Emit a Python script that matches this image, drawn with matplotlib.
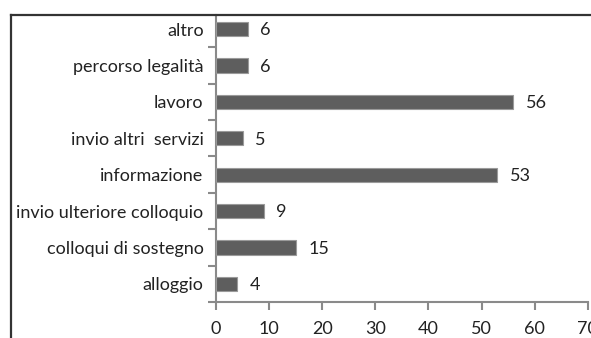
import numpy as np
import matplotlib.pyplot as plt
from matplotlib.lines import Line2D

plt.rcParams['font.family'] = ['Lato', 'DejaVu Sans']

categories = ['alloggio', 'colloqui di sostegno', 'invio ulteriore colloquio',
              'informazione', 'invio altri  servizi', 'lavoro',
              'percorso legalità', 'altro']
counts = [4, 15, 9, 53, 5, 56, 6, 6]
xticks = [0, 10, 20, 30, 40, 50, 60, 70]

W, H = 591, 338
fig = plt.figure(figsize=(W / 100, H / 100), dpi=100)
ax = fig.add_axes([216 / W, 1 - 302 / H, (587.7 - 216) / W, (302 - 14.5) / H])

y = np.arange(len(categories))
ax.barh(y, counts, height=0.39, color='#5e5e5e', edgecolor='#9a9a9a', linewidth=0.8, zorder=3)

for yi, v in zip(y, counts):
    ax.annotate(str(v), (v, yi), xytext=(9, -1), textcoords='offset points',
                va='center', ha='left', fontsize=13, color='#222222')

ax.set_xlim(0, 70)
ax.set_ylim(-0.5, 7.4)
ax.set_xticks(xticks)
ax.set_xticklabels([str(t) for t in xticks], fontsize=13, color='#222222')
ax.set_yticks(y)
ax.set_yticklabels(categories, fontsize=13, color='#222222')
# ticks sit between categories, labels stay centred on the bars
ax.set_yticks(np.arange(-0.5, 7.5, 1.0), minor=True)
ax.tick_params(axis='y', which='major', length=0, pad=9)
ax.tick_params(axis='y', which='minor', length=6, width=1.5, color='#8a8a8a', direction='out')
ax.tick_params(axis='x', length=6, width=1.5, color='#8a8a8a', direction='out', pad=8)

for s in ['top', 'right']:
    ax.spines[s].set_visible(False)
for s in ['left', 'bottom']:
    ax.spines[s].set_color('#8a8a8a')
    ax.spines[s].set_linewidth(1.5)

# outer frame of the chart box
fx, fy = 11 / W, 1 - 14.5 / H
fig.add_artist(Line2D([fx, 1.01], [fy, fy], color='#333333', lw=1.6, transform=fig.transFigure))
fig.add_artist(Line2D([fx, fx], [fy, -0.01], color='#333333', lw=1.6, transform=fig.transFigure))

fig.savefig('out.png', dpi=100)
